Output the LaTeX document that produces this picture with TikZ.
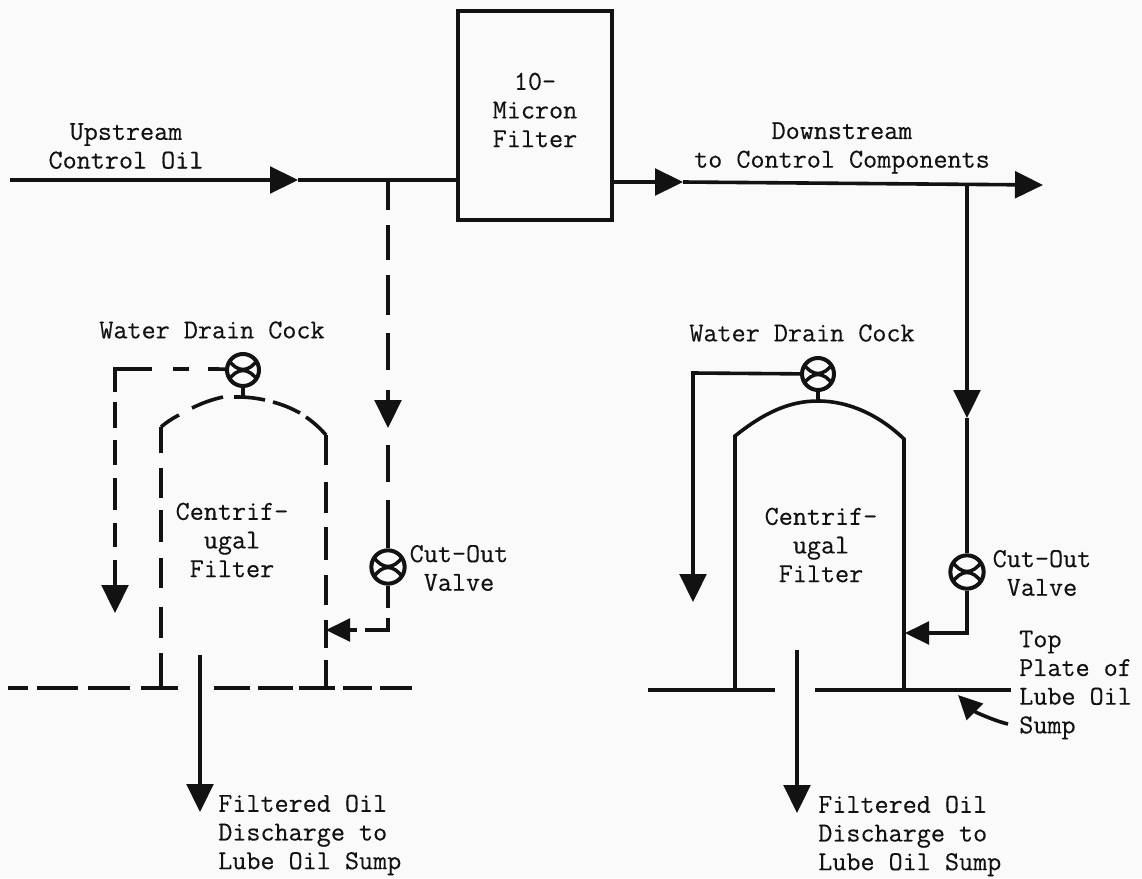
\documentclass[tikz,border=0pt]{standalone}
\usepackage{fontspec}
\newfontfamily\twfont[FakeBold=0.3]{Latin Modern Mono}
\usetikzlibrary{arrows.meta}
\definecolor{ink}{gray}{0.07}
\definecolor{paper}{gray}{0.98}
\tikzset{
  x=0.75pt, y=-0.75pt,
  line/.style={draw=ink, line width=2.7pt},
  flow/.style={line, -{Triangle[length=21pt,width=20pt]}},
  flowsmall/.style={line, -{Triangle[length=18pt,width=17pt]}},
  label/.style={font=\fontsize{20.5}{21.5}\selectfont\twfont, text=ink, align=center, inner sep=0pt},
  labell/.style={label, align=left, anchor=west},
  valve/.style={circle, draw=ink, line width=3pt, minimum size=#1, inner sep=0pt, fill=paper,
    path picture={
      \begin{scope}[shift={(path picture bounding box.center)}]
      \draw[ink, line width=2.6pt]
        (-15,-11) .. controls (-6,3) and (6,3) .. (15,-11)
        (-15,11) .. controls (-6,-3) and (6,-3) .. (15,11);
      \end{scope}
    }},
  vsmall/.style={valve=24pt},
  vlarge/.style={valve=25pt},
  filterbox/.style={draw=ink, line width=2.7pt, fill=paper, minimum width=115.5pt, minimum height=157pt, inner sep=0pt}
}
\begin{document}
\begin{tikzpicture}
\useasboundingbox (0,0) rectangle (1142,878);
\fill[paper] (0,0) rectangle (1142,878);

% filter
\node[filterbox] (box) at (535,115.5) {};
\node[label] (boxtext) at (535,110) {10-\\Micron\\Filter};

% named points
\coordinate (in) at (10,180);
\coordinate (a1) at (298,180);
\coordinate (a2) at (683,182);
\coordinate (out) at (1043,185);
\coordinate (tapR) at (967,184);
\coordinate (a3) at (967,418);
\coordinate (a4) at (388,428);
\coordinate (tipL) at (326,630);
\coordinate (kneeR) at (967,633);
\coordinate (tipR) at (905,633);
\coordinate (cR) at (693,373);
\coordinate (tR) at (693,602);

% main line
\draw[flow] (in) -- (a1);
\draw[line] (a1) -- (box.west |- a1);
\draw[flow] (box.east |- a2) -- (a2);
\draw[flow] (a2) -- (out);

% valves
\node[vlarge] (vL) at (388,567) {};
\node[vsmall] (dL) at (243,370) {};
\node[vlarge] (vR) at (967,572) {};
\node[vsmall] (dR) at (818,374) {};

% left (dashed) branch: dashes placed one by one, as the reference has them
\foreach \a/\b in {180/210,225/260,275/315,333/370}
  \draw[line] (388,\a) -- (388,\b);
\draw[flow] (388,390) -- (a4);
\draw[line] (388,445) -- (388,482);
\draw[line] (388,500) -- (vL);
\draw[line] (vL) -- (388,608);
\draw[line] (388,618) -- (388,630) -- (365,630);
\draw[flowsmall] (357,630) -- (tipL);

% left drain line
\foreach \a/\b in {137/152,173/189,208/218}
  \draw[line] (\b,369) -- (\a,369);
\draw[line] (dL) -- (218,369);
\draw[line] (137,369) -- (115,369) -- (115,392);
\foreach \a/\b in {402/428,440/465,478/510,523/547}
  \draw[line] (115,\a) -- (115,\b);
\draw[flow] (115,560) -- (115,613);

% left tank
\foreach \a/\b in {427/453,468/498,510/542,558/588,607/638,653/688}
  \draw[line] (161,\a) -- (161,\b);
\foreach \a/\b in {435/465,482/513,527/560,575/605,620/648,660/688}
  \draw[line] (326,\a) -- (326,\b);
\draw[line] (161,427) to[bend left=6] (179,415);
\draw[line] (192,408) to[bend left=6] (223,397);
\draw[line] (234,397) to[bend left=6] (265,400);
\draw[line] (273,402) to[bend left=6] (300,413);
\draw[line] (306,417) to[bend left=6] (326,435);
\draw[line] (dL) -- (243,397);

% left plate
\foreach \a/\b in {8/28,37/78,88/130,141/178,214/250,258/293,299/335,343/372,380/412}
  \draw[line] (\a,688) -- (\b,688);

% left discharge
\coordinate (pL) at (200,655);
\coordinate (dtL) at (200,812);
\draw[flow] (pL) -- (dtL);

% right branch
\draw[flow] (tapR) -- (a3);
\draw[line] (a3) -- (vR);
\draw[line] (vR) -- (kneeR) -- (928,633);
\draw[flowsmall] (928,633) -- (tipR);
\draw[line] (dR) -- (cR) -- (693,575);
\draw[flow] (693,575) -- (tR);

% right tank
\coordinate (rtA) at (735,690);
\coordinate (rtB) at (735,436);
\coordinate (rtC) at (904,439);
\coordinate (rtD) at (904,690);
\draw[line] (rtA) -- (rtB) .. controls (765,412) and (790,401) .. (818,401)
  .. controls (850,401) and (880,416) .. (rtC) -- (rtD);
\draw[line] (dR) -- (818,401);

% right plate and discharge
\draw[line] (648,690) -- (775,690);
\draw[line] (815,690) -- (1011,690);
\coordinate (pR) at (797,650);
\coordinate (dtR) at (797,813);
\draw[flow] (pR) -- (dtR);

% curved pointer
\coordinate (cA) at (1008,724);
\coordinate (cB) at (958,695);
\draw[line, -{Triangle[length=18pt,width=17pt]}] (cA) .. controls (995,721) and (975,712) .. (cB);

% labels
\node[label] (t1) at (126,146) {Upstream\\Control Oil};
\node[label] (t2) at (842,148) {Downstream\\to Control Components};
\node[label] (t3) at (212,330) {Water Drain Cock};
\node[label] (t4) at (802,333) {Water Drain Cock};
\node[label] (t5) at (232,540) {Centrif-\\ugal\\Filter};
\node[label] (t6) at (821,545) {Centrif-\\ugal\\Filter};
\node[label] (t7) at (459,568) {Cut-Out\\Valve};
\node[label] (t8) at (1042,573) {Cut-Out\\Valve};
\node[labell] (t9) at (1019,685) {Top\\Plate of\\Lube Oil\\Sump};
\node[labell] (t10) at (218,835) {Filtered Oil\\Discharge to\\Lube Oil Sump};
\node[labell] (t11) at (818,836) {Filtered Oil\\Discharge to\\Lube Oil Sump};
\end{tikzpicture}
\end{document}
